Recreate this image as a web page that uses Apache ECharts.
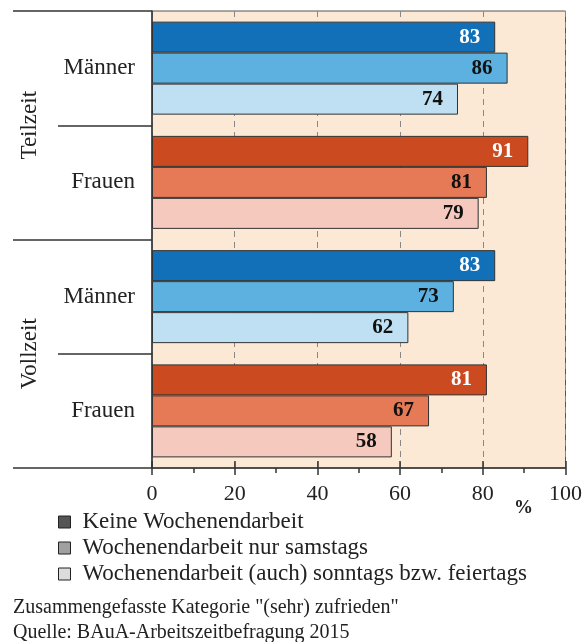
<!DOCTYPE html>
<html>
<head>
<meta charset="utf-8">
<script src="https://cdn.jsdelivr.net/npm/echarts@6/dist/echarts.min.js"></script>
<style>
  html, body { margin: 0; padding: 0; background: #fff; }
  #chart { width: 585px; height: 642px; }
</style>
</head>
<body>
<div id="chart"></div>
<script>
// data
const categories = ['Männer', 'Frauen', 'Männer', 'Frauen'];
const groups = ['Teilzeit', 'Vollzeit'];
const seriesNames = [
  'Keine Wochenendarbeit',
  'Wochenendarbeit nur samstags',
  'Wochenendarbeit (auch) sonntags bzw. feiertags'
];
const keineWE = [83, 91, 83, 81];
const nurSamstags = [86, 81, 73, 67];
const auchSonntags = [74, 79, 62, 58];
const xTicks = [0, 20, 40, 60, 80, 100];

const blues = ['#1270b8', '#5cb1e0', '#bfe0f3'];
const reds = ['#cb4a1f', '#e67a56', '#f5c9bd'];
const legendGrays = ['#555555', '#a0a0a0', '#dcdcdc'];
const serif = 'Liberation Serif';

const chart = echarts.init(document.getElementById('chart'));

function makeSeries(name, values, idx) {
  return {
    name: name,
    type: 'bar',
    yAxisIndex: 0,
    barWidth: 31,
    barGap: '0%',
    itemStyle: { color: legendGrays[idx], borderColor: '#333', borderWidth: 1 },
    label: {
      show: true,
      position: 'insideRight',
      distance: 15,
      fontFamily: serif,
      fontWeight: 'bold',
      fontSize: 21,
      color: idx === 0 ? '#fff' : '#111'
    },
    data: values.map((v, i) => ({
      value: v,
      itemStyle: { color: i % 2 === 0 ? blues[idx] : reds[idx] }
    }))
  };
}

chart.setOption({
  animation: false,
  backgroundColor: '#fff',
  title: [
    {
      text: 'Zusammengefasste Kategorie "(sehr) zufrieden"\nQuelle: BAuA-Arbeitszeitbefragung 2015',
      left: 13,
      top: 595,
      padding: 0,
      textStyle: { fontFamily: serif, fontSize: 20, lineHeight: 25, fontWeight: 'normal', color: '#222' }
    },
    {
      text: '%',
      left: 514,
      top: 499,
      padding: 0,
      textStyle: { fontFamily: serif, fontSize: 19, fontWeight: 'bold', color: '#222' }
    }
  ],
  legend: {
    orient: 'vertical',
    left: 58,
    top: 509,
    padding: 0,
    itemGap: 0,
    itemWidth: 12,
    itemHeight: 12,
    icon: 'rect',
    selectedMode: false,
    itemStyle: { borderColor: '#222', borderWidth: 1 },
    textStyle: { fontFamily: serif, fontSize: 23, lineHeight: 26, color: '#222', padding: [0, 0, 0, 7] },
    data: seriesNames.map((n, i) => ({ name: n, itemStyle: { color: legendGrays[i] } }))
  },
  grid: {
    left: 152,
    right: 18,
    top: 11,
    bottom: 174,
    show: true,
    backgroundColor: '#fbe9d5',
    borderColor: '#555',
    borderWidth: 1
  },
  xAxis: [
    {
      type: 'value',
      min: xTicks[0],
      max: xTicks[xTicks.length - 1],
      interval: 20,
      axisLine: { show: true, lineStyle: { color: '#333', width: 1.5 } },
      axisTick: { show: true, length: 7, lineStyle: { color: '#333', width: 1.5 } },
      minorTick: { show: true, splitNumber: 2, length: 5, lineStyle: { color: '#333', width: 1.5 } },
      axisLabel: { fontFamily: serif, fontSize: 22, color: '#222', margin: 15 },
      splitLine: { show: true, lineStyle: { color: '#888', type: [6, 5], width: 1 } }
    },
    {
      type: 'value',
      min: xTicks[0],
      max: xTicks[xTicks.length - 1],
      interval: 20,
      position: 'bottom',
      axisLine: { show: false },
      axisTick: { show: true, inside: true, length: 7, lineStyle: { color: '#333', width: 1.5 } },
      axisLabel: { show: false },
      splitLine: { show: false }
    }
  ],
  yAxis: [
    {
      type: 'category',
      data: categories,
      inverse: true,
      axisLine: { show: true, lineStyle: { color: '#333', width: 1.5 } },
      axisTick: { show: true, length: 94, lineStyle: { color: '#333', width: 1.5 } },
      axisLabel: { fontFamily: serif, fontSize: 23, color: '#222', margin: 17 }
    },
    {
      type: 'category',
      data: groups,
      inverse: true,
      position: 'left',
      axisLine: { show: false },
      axisTick: { show: true, length: 139, lineStyle: { color: '#333', width: 1.5 } },
      axisLabel: { fontFamily: serif, fontSize: 23, color: '#222', rotate: 90, margin: 111 }
    }
  ],
  series: [
    makeSeries(seriesNames[0], keineWE, 0),
    makeSeries(seriesNames[1], nurSamstags, 1),
    makeSeries(seriesNames[2], auchSonntags, 2)
  ]
});
</script>
</body>
</html>
